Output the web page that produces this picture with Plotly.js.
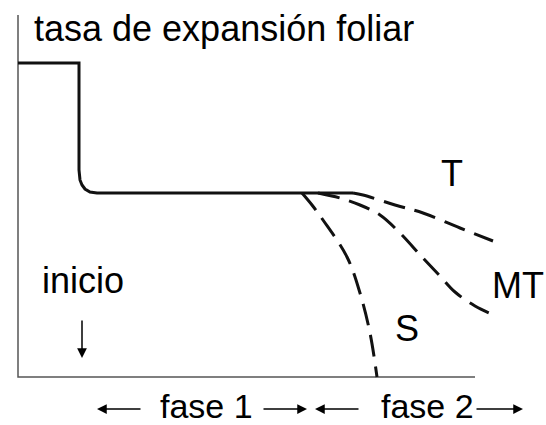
<!DOCTYPE html>
<html>
<head>
<meta charset="utf-8">
<script src="https://cdn.plot.ly/plotly-3.0.1.min.js"></script>
<style>
  html, body { margin: 0; padding: 0; background: #fff; }
  #chart { width: 546px; height: 425px; }
</style>
</head>
<body>
<div id="chart"></div>
<script>
// --- Data (schematic units: time to the right, rate upward) ---
const axisX = [0, 0, 457];
const axisY = [362, 0, 0];

// common course: high rate, sharp drop at "inicio", then fase 1 plateau
const solidX = [0, 61, 61, 62, 64, 67, 72, 79, 335];
const solidY = [314, 314, 207, 197, 192, 188, 185, 184, 184];

// fase 2 branches
const tX = [335, 345, 377, 405, 442, 475];
const tY = [184, 182, 172, 164, 149, 136];
const mtX = [300, 322, 342, 362, 382, 404, 422, 437, 457, 478];
const mtY = [184, 179, 172, 162, 144, 120, 101, 85, 71, 61];
const sX = [284, 294, 305, 329, 342, 352, 359];
const sY = [184, 172, 157, 120, 84, 44, 0];

// labels
const labelText = ["tasa de expansión foliar", "T", "MT", "S", "inicio", "fase 1", "fase 2"];
const labelX = [14, 434, 500, 389, 65, 188, 409];
const labelY = [349, 204, 92, 49, 97, -29, -29];
const labelSize = [36, 36, 36, 36, 36, 34, 34];
const labelAnchor = ["left", "center", "center", "center", "center", "center", "center"];

// arrows: tail -> head
const arrowTailX = [64, 124, 244, 342, 457];
const arrowTailY = [58, -32, -32, -32, -32];
const arrowHeadX = [64, 79, 289, 297, 505];
const arrowHeadY = [19, -32, -32, -32, -32];

// --- Traces ---
const ink = "#111";
const dash = "22px,10px";

const traces = [
  { x: axisX, y: axisY, mode: "lines", line: { color: "#555", width: 1.5 }, hoverinfo: "skip" },
  { x: solidX, y: solidY, mode: "lines", line: { color: ink, width: 3 }, hoverinfo: "skip" },
  { x: tX, y: tY, mode: "lines", line: { color: ink, width: 3, dash: dash, shape: "spline" }, hoverinfo: "skip" },
  { x: mtX, y: mtY, mode: "lines", line: { color: ink, width: 3, dash: dash, shape: "spline" }, hoverinfo: "skip" },
  { x: sX, y: sY, mode: "lines", line: { color: ink, width: 3, dash: dash, shape: "spline" }, hoverinfo: "skip" },
];

const annotations = [];
labelText.forEach((t, i) => {
  annotations.push({
    x: labelX[i], y: labelY[i], xref: "x", yref: "y",
    text: t, showarrow: false,
    xanchor: labelAnchor[i], yanchor: "middle",
    font: { family: "Liberation Sans, Arial, sans-serif", size: labelSize[i], color: "#000" },
  });
});
arrowHeadX.forEach((hx, i) => {
  annotations.push({
    x: hx, y: arrowHeadY[i], xref: "x", yref: "y",
    ax: arrowTailX[i], ay: arrowTailY[i], axref: "x", ayref: "y",
    text: "", showarrow: true,
    arrowhead: 2, arrowsize: 1.3, arrowwidth: 1.5, arrowcolor: "#000",
  });
});

const layout = {
  width: 546,
  height: 425,
  margin: { l: 0, r: 0, t: 0, b: 0 },
  paper_bgcolor: "#fff",
  plot_bgcolor: "#fff",
  showlegend: false,
  xaxis: { range: [-18, 528], visible: false, fixedrange: true },
  yaxis: { range: [-48, 377], visible: false, fixedrange: true },
  annotations: annotations,
};

Plotly.newPlot("chart", traces, layout, { displayModeBar: false, staticPlot: true });
</script>
</body>
</html>
